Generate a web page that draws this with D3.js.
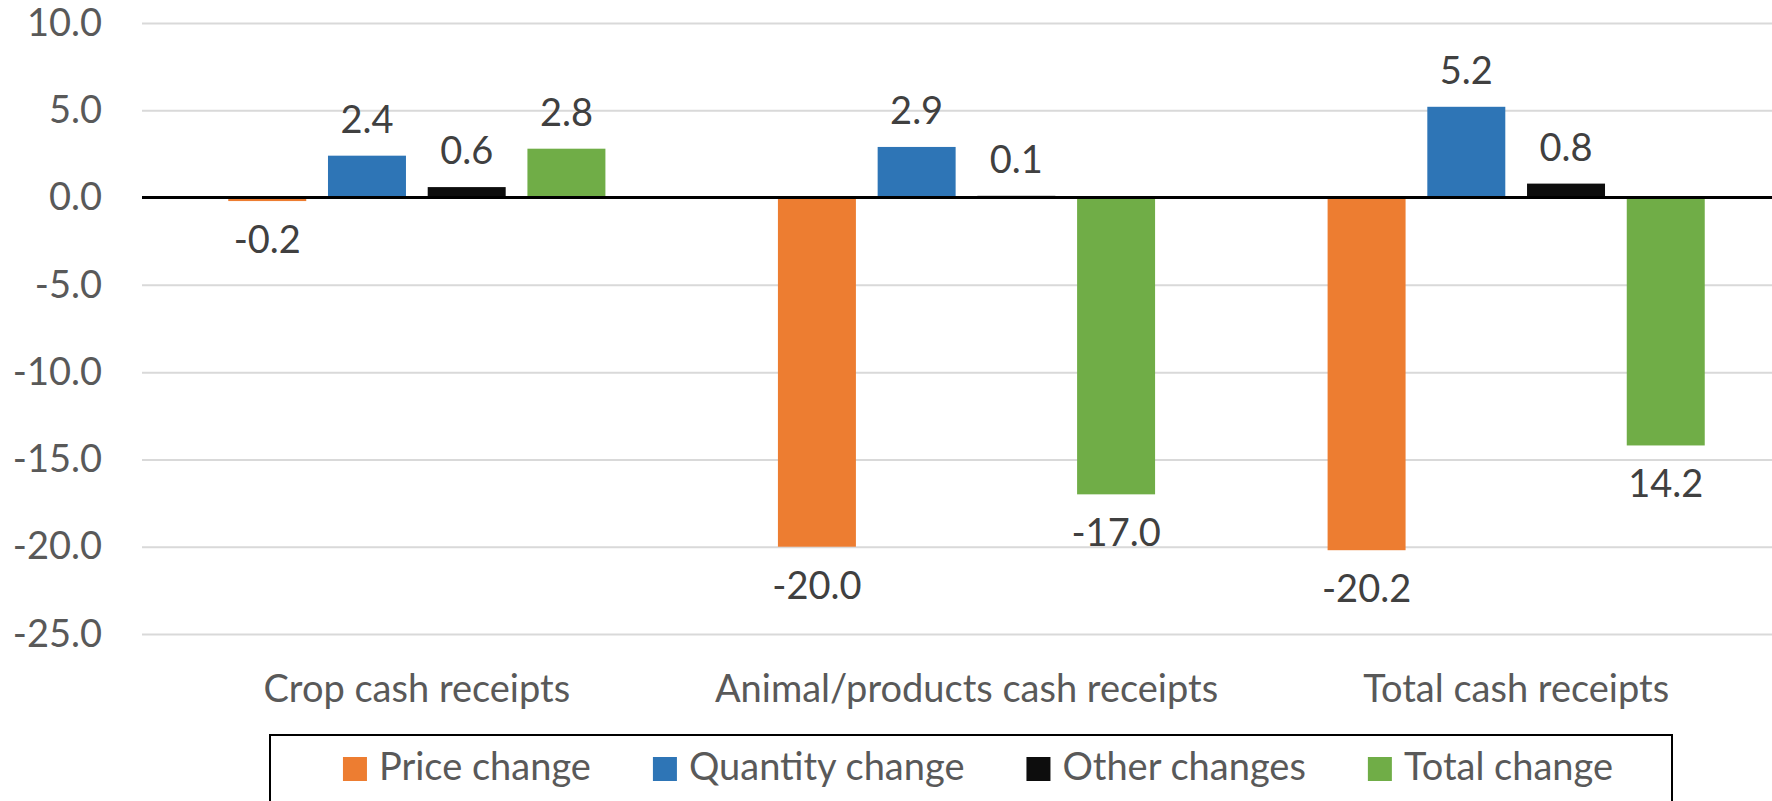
<!DOCTYPE html>
<html>
<head>
<meta charset="utf-8">
<script src="https://cdn.jsdelivr.net/npm/d3@7"></script>
<style>
  body { margin: 0; background: #fff; }
  svg { display: block; font-family: Lato, "Open Sans", sans-serif; }
</style>
</head>
<body>
<div id="chart"></div>
<script>
'use strict';

const categories = ['Crop cash receipts', 'Animal/products cash receipts', 'Total cash receipts'];
const seriesNames = ['Price change', 'Quantity change', 'Other changes', 'Total change'];
const priceChange = [-0.2, -20.0, -20.2];
const quantityChange = [2.4, 2.9, 5.2];
const otherChanges = [0.6, 0.1, 0.8];
const totalChange = [2.8, -17.0, -14.2];
// labels as printed on the chart (last total label has no minus sign)
const totalChangeLabels = ['2.8', '-17.0', '14.2'];
const yTicks = [10, 5, 0, -5, -10, -15, -20, -25];
const colors = ['#ED7D31', '#2E75B6', '#0D0D0D', '#70AD47'];

const width = 1772;
const height = 801;
const fontSize = 38;

const fmt = d3.formatLocale({decimal: '.', thousands: ',', grouping: [3], currency: ['$', ''], minus: '-'}).format('.1f');

const values = [priceChange, quantityChange, otherChanges, totalChange];
const labels = [priceChange.map(fmt), quantityChange.map(fmt), otherChanges.map(fmt), totalChangeLabels];

const svg = d3.select('#chart').append('svg')
    .attr('width', width)
    .attr('height', height);

const x = d3.scaleBand()
    .domain(categories)
    .range([142, 1791]);

const xs = d3.scaleBand()
    .domain(seriesNames)
    .range([0, x.bandwidth()])
    .paddingInner(0.218)
    .paddingOuter(0.865);

const y = d3.scaleLinear()
    .domain([10, -25])
    .range([23, 634]);

// gridlines + tick labels
const yAxis = svg.append('g')
    .attr('transform', 'translate(142,0)')
    .call(d3.axisLeft(y).tickValues(yTicks).tickFormat(fmt)
        .tickSize(-(width - 142)).tickPadding(40));
yAxis.select('.domain').remove();
yAxis.selectAll('line').attr('stroke', '#D9D9D9').attr('stroke-width', 2);
yAxis.selectAll('text')
    .attr('fill', '#595959')
    .style('font-size', fontSize + 'px')
    .style('font-family', 'Lato, sans-serif');

// bars
const rows = [];
seriesNames.forEach((s, i) => {
    categories.forEach((c, j) => {
        rows.push({series: s, cat: c, value: values[i][j], label: labels[i][j], color: colors[i]});
    });
});

svg.append('g').selectAll('rect')
    .data(rows)
    .join('rect')
    .attr('x', d => x(d.cat) + xs(d.series))
    .attr('width', xs.bandwidth())
    .attr('y', d => y(Math.max(0, d.value)))
    .attr('height', d => Math.abs(y(d.value) - y(0)))
    .attr('fill', d => d.color);

// zero line
svg.append('line')
    .attr('x1', 142).attr('x2', width)
    .attr('y1', y(0)).attr('y2', y(0))
    .attr('stroke', '#000')
    .attr('stroke-width', 3);

// data labels
svg.append('g').selectAll('text')
    .data(rows)
    .join('text')
    .attr('x', d => x(d.cat) + xs(d.series) + xs.bandwidth() / 2)
    .attr('y', d => d.value >= 0 ? y(d.value) - 23 : y(d.value) + 52)
    .attr('text-anchor', 'middle')
    .attr('fill', '#404040')
    .style('font-size', fontSize + 'px')
    .text(d => d.label);

// category labels
const xAxis = svg.append('g')
    .attr('transform', 'translate(0,702)')
    .call(d3.axisBottom(x).tickSize(0).tickPadding(0));
xAxis.select('.domain').remove();
xAxis.selectAll('text')
    .attr('dy', 0)
    .attr('y', 0)
    .attr('fill', '#595959')
    .style('font-size', fontSize + 'px')
    .style('font-family', 'Lato, sans-serif');

// legend
const legend = svg.append('g');
legend.append('rect')
    .attr('x', 270).attr('y', 735)
    .attr('width', 1672 - 270).attr('height', 120)
    .attr('fill', 'none')
    .attr('stroke', '#000')
    .attr('stroke-width', 2);

const items = legend.selectAll('g.item')
    .data(seriesNames)
    .join('g')
    .attr('class', 'item');
items.append('rect')
    .attr('width', 24).attr('height', 24)
    .attr('y', 757)
    .attr('fill', (d, i) => colors[i]);
items.append('text')
    .attr('x', 36)
    .attr('y', 780)
    .attr('fill', '#595959')
    .style('font-size', fontSize + 'px')
    .text(d => d);

let widths = [];
items.select('text').each(function() { widths.push(this.getComputedTextLength()); });
const gap = 62;
const total = d3.sum(widths, w => w + 36) + gap * (widths.length - 1);
let cx = 978 - total / 2;
items.each(function(d, i) {
    d3.select(this).attr('transform', `translate(${cx},0)`);
    cx += 36 + widths[i] + gap;
});
</script>
</body>
</html>
